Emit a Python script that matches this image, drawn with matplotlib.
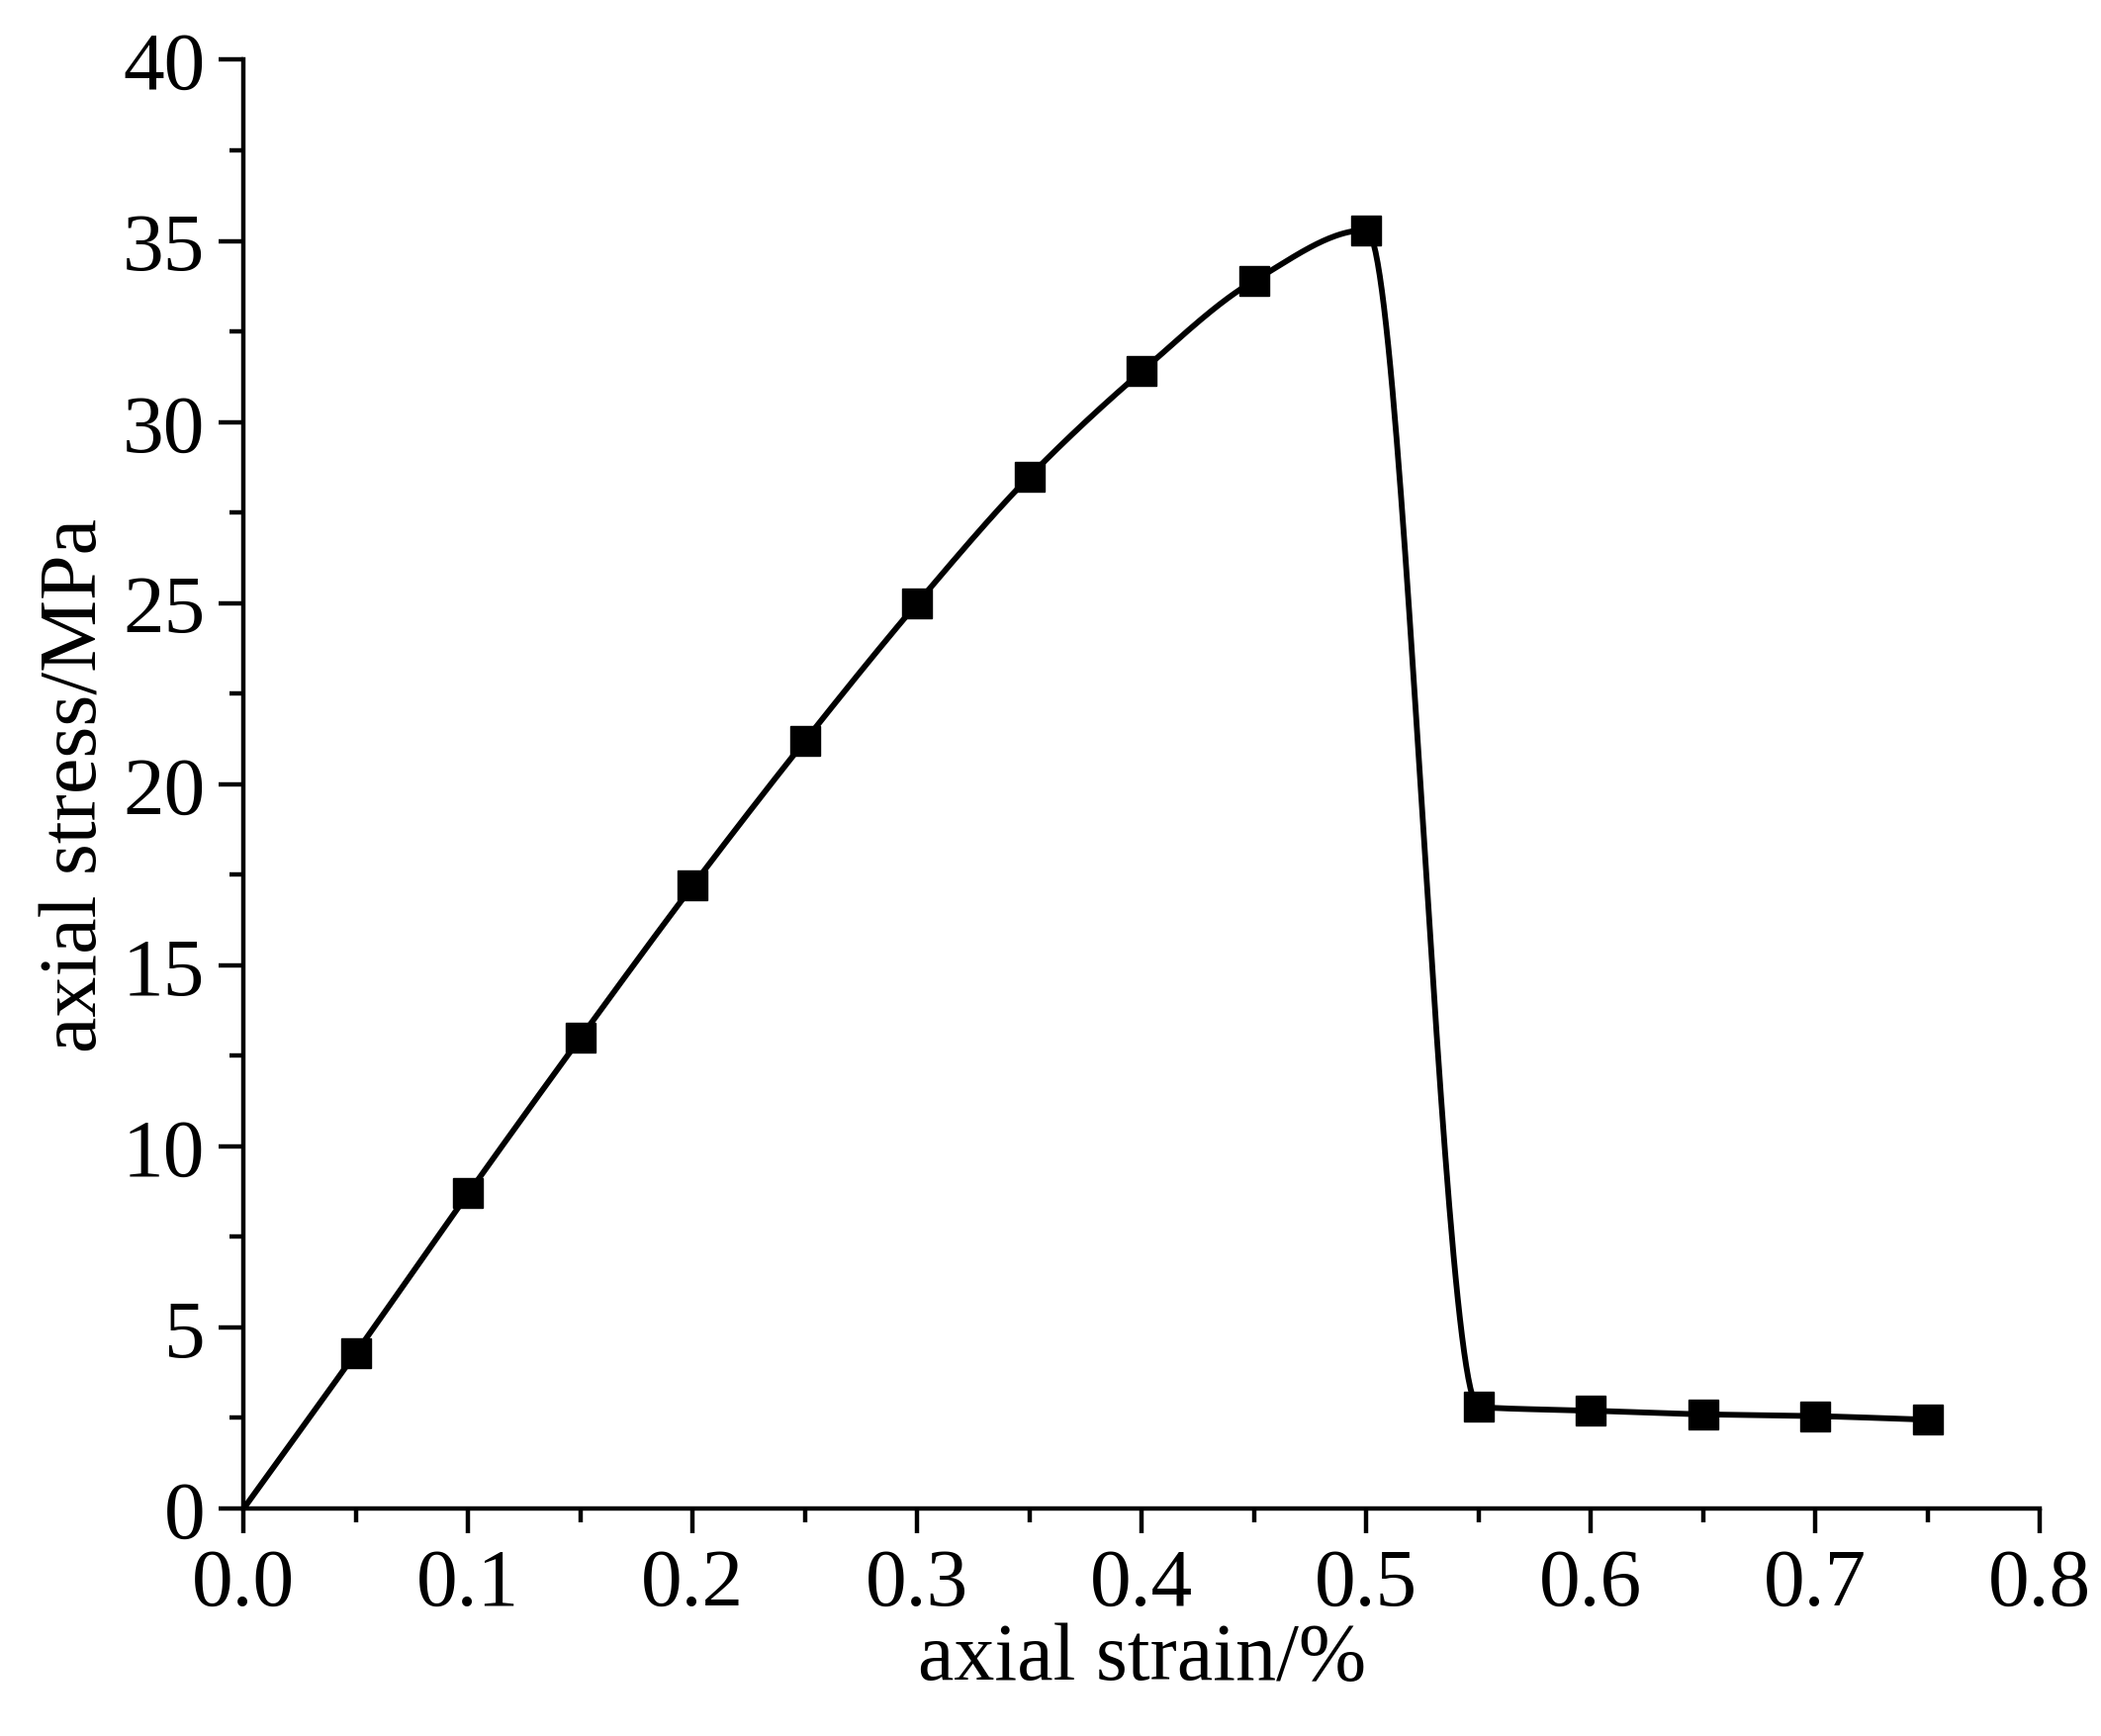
import numpy as np
import matplotlib
matplotlib.use("Agg")
import matplotlib.pyplot as plt
from matplotlib.ticker import MultipleLocator

strain = [0.0, 0.05, 0.10, 0.15, 0.20, 0.25, 0.30, 0.35, 0.40, 0.45, 0.50,
          0.55, 0.60, 0.65, 0.70, 0.75]
stress = [0.0, 4.3, 8.7, 13.0, 17.2, 21.2, 25.0, 28.5, 31.4, 33.9, 35.3,
          2.8, 2.7, 2.6, 2.55, 2.45]


def pchip(x, y, xs):
    # monotone cubic curve through the measured points (line only)
    x = np.asarray(x); y = np.asarray(y)
    h = np.diff(x); d = np.diff(y) / h
    m = np.zeros_like(y)
    for k in range(1, len(x) - 1):
        if d[k - 1] * d[k] > 0:
            w1 = 2 * h[k] + h[k - 1]; w2 = h[k] + 2 * h[k - 1]
            m[k] = (w1 + w2) / (w1 / d[k - 1] + w2 / d[k])
    m[0] = d[0]; m[-1] = d[-1]
    idx = np.clip(np.searchsorted(x, xs) - 1, 0, len(h) - 1)
    t = (xs - x[idx]) / h[idx]
    h00 = 2 * t**3 - 3 * t**2 + 1; h10 = t**3 - 2 * t**2 + t
    h01 = -2 * t**3 + 3 * t**2; h11 = t**3 - t**2
    return h00 * y[idx] + h10 * h[idx] * m[idx] + h01 * y[idx + 1] + h11 * h[idx] * m[idx + 1]


plt.rcParams['font.family'] = ['Liberation Serif', 'DejaVu Serif']

fig = plt.figure(figsize=(21.24, 17.56), dpi=100)
ax = fig.add_axes([0.116, 0.131, 0.855, 0.834])

xs = np.linspace(0, 0.75, 800)
ax.plot(xs, pchip(strain, stress, xs), color='black', lw=4.2)
ax.plot(strain[1:], stress[1:], 's', color='black', ms=22)

ax.set_xlim(0, 0.8)
ax.set_ylim(0, 40)
ax.xaxis.set_major_locator(MultipleLocator(0.1))
ax.xaxis.set_minor_locator(MultipleLocator(0.05))
ax.yaxis.set_major_locator(MultipleLocator(5))
ax.yaxis.set_minor_locator(MultipleLocator(2.5))
ax.xaxis.set_major_formatter(matplotlib.ticker.FormatStrFormatter('%.1f'))

for s in ['top', 'right']:
    ax.spines[s].set_visible(False)
for s in ['left', 'bottom']:
    ax.spines[s].set_linewidth(3.2)

ax.tick_params(which='major', direction='out', length=18, width=3.2, labelsize=60, pad=10)
ax.tick_params(which='minor', direction='out', length=10, width=3.2)

ax.set_xlabel('axial strain/%', fontsize=59, labelpad=0)
ax.set_ylabel('axial stress/MPa', fontsize=59, labelpad=6)

fig.savefig('out.png', dpi=100)
